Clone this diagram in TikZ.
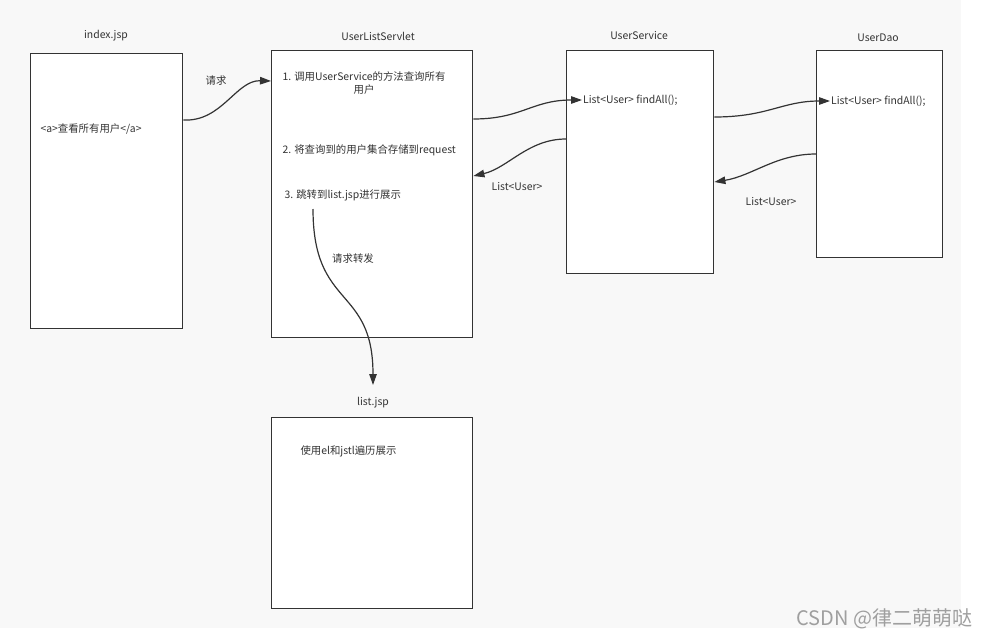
\documentclass[tikz,border=0pt]{standalone}
\usepackage{fontspec}
\setmainfont{Noto Sans CJK SC}
\usepackage{tikz}
\usetikzlibrary{positioning}
\usetikzlibrary{arrows.meta}
\usepackage{xcolor}
\definecolor{bggray}{HTML}{F8F8F8}
\definecolor{ink}{HTML}{333333}

\begin{document}
\begin{tikzpicture}[x=1pt, y=-1pt, font=\fontsize{10.4}{13}\selectfont, text=ink,
		box/.style={draw=ink, fill=white, line width=1.4pt, inner sep=0pt, anchor=north west},
		flow/.style={draw=ink, line width=1.2pt, -{Triangle[length=11pt,width=7.5pt]}}]
			    		\useasboundingbox (0,0) rectangle (992,637);
			    		\fill[bggray] (0,0) rectangle (961,628);
			    		\node[box, minimum width=152pt, minimum height=275pt] (index) at (30,53) {};
			    		\node[box, minimum width=201pt, minimum height=287pt] (servlet) at (271,50) {};
			    		\node[box, minimum width=147pt, minimum height=223pt] (service) at (566,50) {};
			    		\node[box, minimum width=126pt, minimum height=207pt] (dao) at (816,50) {};
			    		\node[box, minimum width=201pt, minimum height=191pt] (listjsp) at (271,417) {};
			    		\node (indexTitle) at (106,36) {index.jsp};
			    		\node (servletTitle) at (378,36) {UserListServlet};
			    		\node (serviceTitle) at (639,36) {UserService};
			    		\node (daoTitle) at (878,38) {UserDao};
			    		\node (listTitle) at (373,403) {list.jsp};
						\node[anchor=west] (ahref) at (37,129) {<a>查看所有用户</a>};
						\node[align=center] (step1) at (364,83.5) {1. 调用UserService的方法查询所有\\用户};
						\node[anchor=west] (step2) at (279,150) {2. 将查询到的用户集合存储到request};
						\node[anchor=west] (step3) at (281,195) {3. 跳转到list.jsp进行展示};
						\node[anchor=west, inner sep=1pt] (findA) at (582,100) {List<User> findAll();};
						\node[anchor=west, inner sep=1pt] (findB) at (830,101) {List<User> findAll();};
						\node (retA) at (517,187) {List<User>};
						\node (retB) at (771,202) {List<User>};
						\node (req) at (216,81) {请求};
						\node (fwd) at (353,259) {请求转发};
						\node[anchor=west] (show) at (297,451) {使用el和jstl遍历展示};
						\node[anchor=east, text=gray!75, font=\fontsize{20}{20}\selectfont] (mark) at (976,619) {CSDN @律二萌萌哒};
						\coordinate (fwdA) at (313,209);
						\coordinate (fwdB) at (373,385);
			    		\draw[flow] (index.east |- 0,120) .. controls (222,122) and (236,80) .. (servlet.west |- 0,81);
			    		\draw[flow] (servlet.east |- 0,119) .. controls (522,119) and (532,100) .. (findA.west);
			    		\draw[flow] (service.west |- 0,139) .. controls (528,139) and (508,168) .. (servlet.east |- 0,176);
			    		\draw[flow] (service.east |- 0,117) .. controls (768,117) and (782,101) .. (findB.west);
			    		\draw[flow] (dao.west |- 0,154) .. controls (776,154) and (752,176) .. (service.east |- 0,182);
			    		\draw[flow] (fwdA) .. controls (313,310) and (373,285) .. (fwdB);
			    	\end{tikzpicture}
\end{document}
